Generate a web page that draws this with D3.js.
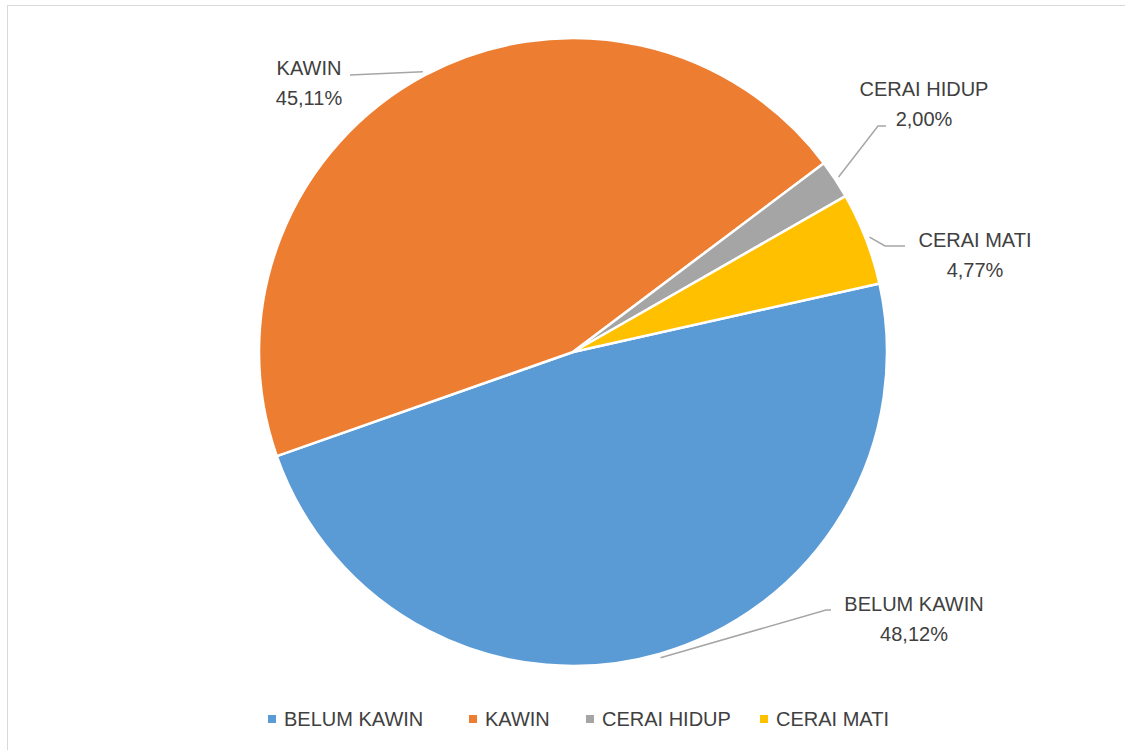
<!DOCTYPE html>
<html>
<head>
<meta charset="utf-8">
<script src="https://cdn.jsdelivr.net/npm/d3@7"></script>
<style>
  body { margin: 0; background: #fff; }
  text { font-family: "Liberation Sans Narrow", "Liberation Sans", sans-serif; fill: #404040; }
</style>
</head>
<body>
<div class="chart"></div>
<script>
const categories = ['BELUM KAWIN', 'KAWIN', 'CERAI HIDUP', 'CERAI MATI'];
const values = [48.12, 45.11, 2.00, 4.77];
const valueLabels = ['48,12%', '45,11%', '2,00%', '4,77%'];
const colors = ['#5B9BD5', '#ED7D31', '#A5A5A5', '#FFC000'];

const w = 1125,
      h = 750,
      cx = 573,
      cy = 352,
      r = 314;

// label anchors (text centre) and the elbow of each leader line
const labelPos = [
  { x: 914, y: 604, elbow: [826, 610], end: [831, 610] },
  { x: 309, y: 68,  elbow: null,       end: [350, 75] },
  { x: 924, y: 89,  elbow: [878, 126], end: [886, 126] },
  { x: 975, y: 240, elbow: [885, 246], end: [905, 246] }
];

const svg = d3.select('.chart')
  .append('svg')
  .attr('width', w)
  .attr('height', h);

svg.append('rect')
  .attr('x', 7.5)
  .attr('y', 5.5)
  .attr('width', w + 20)
  .attr('height', h + 20)
  .attr('fill', 'none')
  .attr('stroke', '#d9d9d9')
  .attr('stroke-width', 1);

const data = categories.map((c, i) => ({ name: c, value: values[i], label: valueLabels[i], color: colors[i] }));

const startA = 77.4 * Math.PI / 180;
const pie = d3.pie()
  .sort(null)
  .value(d => d.value)
  .startAngle(startA)
  .endAngle(startA + 2 * Math.PI);

const arcs = pie(data);
const arc = d3.arc().innerRadius(0).outerRadius(r);

const g = svg.append('g').attr('transform', `translate(${cx},${cy})`);

g.selectAll('path.slice')
  .data(arcs)
  .enter()
  .append('path')
  .attr('class', 'slice')
  .attr('d', arc)
  .attr('fill', d => d.data.color)
  .attr('stroke', '#fff')
  .attr('stroke-width', 2.5)
  .attr('stroke-linejoin', 'round');

// leader lines
const edgeArc = d3.arc().innerRadius(r + 4).outerRadius(r + 4);
arcs.forEach((d, i) => {
  const p = edgeArc.centroid(d);
  const lp = labelPos[i];
  const pts = [[cx + p[0], cy + p[1]]];
  if (lp.elbow) pts.push(lp.elbow);
  pts.push(lp.end);
  svg.append('path')
    .attr('d', d3.line()(pts))
    .attr('fill', 'none')
    .attr('stroke', '#a6a6a6')
    .attr('stroke-width', 1.5);

  const t = svg.append('text')
    .attr('x', lp.x)
    .attr('y', lp.y)
    .attr('text-anchor', 'middle')
    .style('font-size', '20px');
  t.append('tspan').attr('x', lp.x).attr('dy', '0.35em').text(d.data.name);
  t.append('tspan').attr('x', lp.x).attr('dy', '1.5em').text(d.data.label);
});

// legend
const legendX = [268, 469, 586, 760];
const legend = svg.append('g')
  .selectAll('g')
  .data(data)
  .enter()
  .append('g')
  .attr('transform', (d, i) => `translate(${legendX[i]}, 719)`);

legend.append('rect')
  .attr('x', 0)
  .attr('y', -4)
  .attr('width', 8)
  .attr('height', 8)
  .attr('fill', d => d.color);

legend.append('text')
  .attr('x', 16)
  .attr('y', 0)
  .attr('dy', '0.35em')
  .style('font-size', '20px')
  .text(d => d.name);
</script>
</body>
</html>
